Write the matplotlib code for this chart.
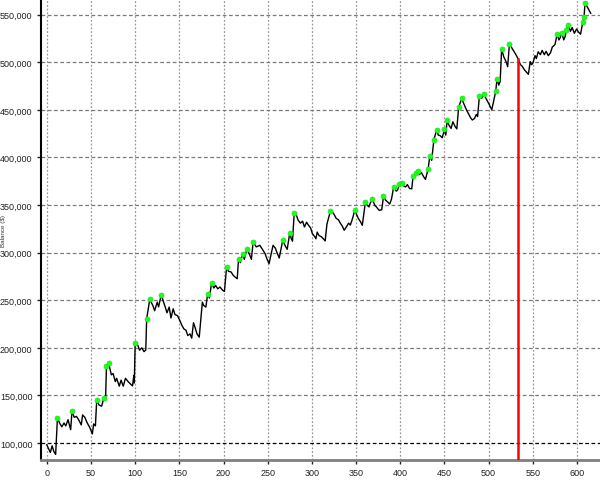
import numpy as np
import matplotlib
matplotlib.use('Agg')
import matplotlib.pyplot as plt
from matplotlib.ticker import FuncFormatter

# 取引番号と残高（千ドル）
trade_no = [
    0, 2, 4, 6, 8, 10, 12, 15, 17, 19.5, 21.5, 24, 27, 28.5, 31, 33.5, 36, 39, 40.5, 43,
    45.5, 48.5, 51.5, 53, 55, 56.5, 59, 62, 64.5, 66.5, 67.5, 70, 73, 75, 77.5, 79, 82, 84,
    86.5, 89, 92, 94, 97, 98.5, 99, 100, 103, 105, 107.5, 110, 112, 113, 116.5, 120, 122,
    125, 126.5, 129.5, 131.5, 134, 136, 138.5, 140.5, 143, 145, 148, 150.5, 153, 155, 157.5,
    159.5, 162, 164, 166, 168, 170, 172.5, 176, 177.5, 180, 182, 184, 186.5, 189, 191, 193.5,
    196, 199, 201, 203.5, 205.5, 208.5, 211, 213, 215.5, 217, 219, 221.5, 223.5, 226.5, 229,
    231.5, 233.5, 237, 241, 244, 247, 249, 251.5, 256, 258.5, 260.5, 263, 267, 269.5, 272,
    275, 276.5, 278, 280, 282.5, 284.5, 287, 289.5, 291.5, 294, 296, 298.5, 300.5, 303,
    304.5, 306, 308, 310.5, 312.5, 315, 317, 321, 323, 325.5, 327.5, 330, 332, 334.5, 336.5,
    339, 341.5, 343.5, 346, 348.5, 352.5, 355, 357, 360.5, 362.5, 364.5, 366, 368.5, 371,
    373, 376, 379, 381, 383.5, 386, 388, 390, 392.5, 395.5, 397, 399, 401.5, 404, 406, 408,
    410.5, 413, 414.5, 417.5, 419.5, 421.5, 424, 426.5, 428.5, 431.5, 433.5, 435.5, 438, 441,
    443, 445, 447.5, 450, 451.5, 453, 455, 457.5, 459.5, 462, 464, 466, 469.5, 472.5, 475,
    477, 479.5, 481.5, 484, 486, 487.5, 489.5, 492, 494.5, 497, 499, 501, 503.5, 505.5, 508,
    509.5, 511.5, 513, 514.7, 517, 520, 521.5, 523.5, 526, 529, 531.5, 533.5, 536, 538,
    540.5, 542.5, 545, 547, 548.5, 550, 552.5, 554, 556, 558.5, 560.5, 563, 565, 567.5, 570,
    572, 575, 577.5, 579.5, 581, 582.5, 585, 586.5, 588, 590, 592.5, 594.5, 597, 599.5,
    601.5, 604, 606.5, 608, 609, 612, 615.5,
]
balance_k = [
    98, 94, 90, 97, 91, 88, 126, 120, 117, 121, 118, 124.5, 114, 133.4, 127, 128, 124.5, 119, 129.5, 127,
    121.5, 116.5, 109.5, 120, 118, 145.6, 140, 138.6, 147, 145, 181.4, 184, 171.6, 173, 164.5, 168, 159.7, 166,
    159.7, 168, 164.5, 162.6, 160, 171, 163, 205.3, 202.6, 197.5, 200, 196, 197.6, 230.5, 250.8, 244.5, 239,
    248, 243, 255.8, 249.8, 242.8, 236.8, 242.8, 231.3, 241, 235, 233.7, 228.7, 223.4, 220, 218.4,
    212.9, 214.6, 210.2, 226.3, 220.7, 214.6, 211.2, 248, 244.5, 242.8, 256.5, 252.3, 268.4, 262.8, 265.6, 262,
    263.9, 260.4, 259.3, 284.9, 280.4, 279.7, 276.1, 274.4, 272.6, 293.7, 289.5, 298.6, 293, 304.2, 298.9,
    293, 311.5, 306, 307.7, 303.5, 299, 293.7, 288.4, 307.7, 304.9, 300, 294.4, 313, 307.7, 303.5,
    321, 315, 312, 341.8, 339, 334, 331, 333, 327, 332, 329, 326, 320, 317,
    314.6, 321.6, 318, 316.8, 315, 312.3, 330, 343.9, 343, 339.5, 336, 334.5, 331.2, 327.7, 323.5,
    327, 331, 329, 336, 344.5, 336, 332.5, 328.7, 353, 350, 348, 352, 356, 350,
    348, 344.5, 345, 359, 355, 353, 351, 356, 369, 364.6, 366, 371.6, 373.5, 370, 369, 371.5,
    367.4, 367, 380.3, 384, 386.3, 382, 384, 379.6, 377, 388, 402, 397, 418.5, 428.7,
    423.5, 423, 420.7, 429.5, 423.5, 439, 434, 430.5, 437.5, 432.6, 430, 452.6, 462, 455, 449.8,
    446.3, 441.8, 439.4, 441, 445.2, 443, 464.5, 462, 467, 462, 458.5, 455, 450, 458.5, 469.8,
    482.4, 476, 480, 514, 506, 500, 495.4, 519.3, 515.5, 511, 507, 503, 497.5, 495.8,
    492, 490, 487.4, 500.7, 497.5, 499, 507, 504, 511, 508, 512.5, 508, 511.5, 507, 510,
    516, 518.5, 529.5, 523.5, 526, 531.3, 523.5, 527, 534.1, 539.3, 532.5, 536.5, 530.5, 535,
    532, 529.5, 542.1, 548.1, 562.1, 557.5, 551.5,
]
x_ticks = list(range(0, 601, 50))
y_ticks = list(range(100000, 550001, 50000))
cut_trade = 533.5

x = np.array(trade_no)
y = np.array(balance_k) * 1000

# 新高値の位置（緑の点）
prev_max = np.maximum.accumulate(y)
is_high = np.r_[False, y[1:] > prev_max[:-1]]

plt.rcParams['font.family'] = ['Liberation Sans', 'DejaVu Sans']

fig = plt.figure(figsize=(6, 4.81), dpi=100)
ax = fig.add_axes([0.068, 0.0416, 0.932, 0.9584])

ax.set_xlim(-6.8, 626)
ax.set_ylim(82140, 566500)

# グリッド
for t in x_ticks:
    ax.axvline(t, color='#9a9a9a', lw=0.9, ls=(0, (1.5, 1.5)), zorder=0)
for t in y_ticks:
    if t == 100000:
        ax.axhline(t, color='#000000', lw=0.9, ls=(0, (3, 2)), zorder=0)
    else:
        ax.axhline(t, color='#7a7a7a', lw=0.9, ls=(0, (3, 2)), zorder=0)

ax.plot(x, y, color='black', lw=1, zorder=2)
ax.plot(x[is_high], y[is_high], 'o', color='#1aff1a', ms=3.6, mec='#22e022', mew=0.5, zorder=3)

cut_val = np.interp(cut_trade, x, y)
ax.plot([cut_trade, cut_trade], [82140, cut_val], color='#ff0000', lw=1.8, zorder=4)

ax.set_xticks(x_ticks)
ax.set_yticks(y_ticks)
ax.yaxis.set_major_formatter(FuncFormatter(lambda v, p: f'{int(v):,}'))
ax.tick_params(axis='both', labelsize=6.5, colors='#222222', length=3, width=1)
ax.tick_params(axis='x', pad=3)
ax.tick_params(axis='y', pad=3)

ax.spines['top'].set_visible(False)
ax.spines['right'].set_visible(False)
ax.spines['left'].set_linewidth(1.5)
ax.spines['left'].set_color('black')
ax.spines['bottom'].set_linewidth(2)
ax.spines['bottom'].set_color('#808080')

fig.text(0.0065, 0.52, 'Balance ($)', rotation=90, fontsize=4.5, va='center', ha='center', color='#333333')

fig.savefig('out.png', dpi=100)
